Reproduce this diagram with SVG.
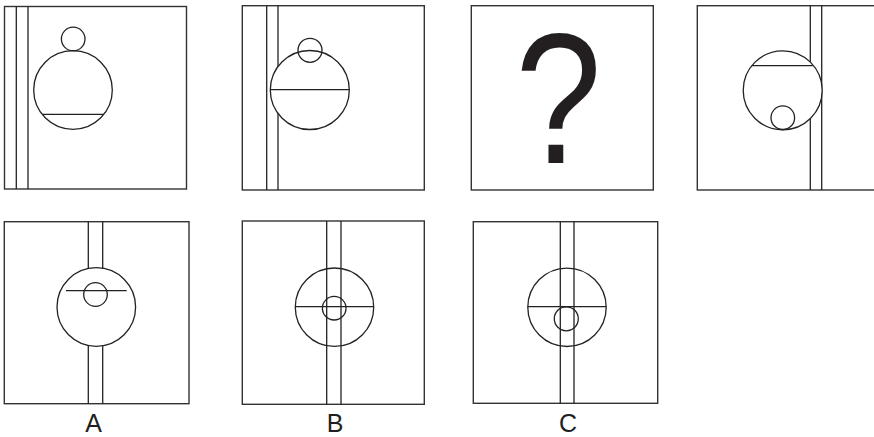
<svg xmlns="http://www.w3.org/2000/svg" width="874" height="437" viewBox="0 0 874 437">
<style>
.box{fill:#fff;stroke:#333;stroke-width:1.4}
.ln{stroke:#222;stroke-width:1.3;fill:none}
.cw{fill:#fff;stroke:#222;stroke-width:1.3}
.c{fill:none;stroke:#222;stroke-width:1.3}
.lbl{font-family:"Liberation Sans",Arial,sans-serif;font-size:25px;fill:#231f20;text-anchor:middle}
</style>
<rect width="874" height="437" fill="#fff"/>
<g id="fig1">
<rect class="box" x="4.5" y="6.5" width="182" height="182.5"/>
<line class="ln" x1="16.3" y1="6.5" x2="16.3" y2="189"/>
<line class="ln" x1="28" y1="6.5" x2="28" y2="189"/>
<circle class="cw" cx="73" cy="90" r="39.3"/>
<line class="ln" x1="42.7" y1="114.3" x2="103.3" y2="114.3"/>
<circle class="c" cx="73.2" cy="39" r="11.8"/>
</g>
<g id="fig2">
<rect class="box" x="242.3" y="5.7" width="182" height="184.3"/>
<line class="ln" x1="266.7" y1="5.7" x2="266.7" y2="190"/>
<line class="ln" x1="278" y1="5.7" x2="278" y2="190"/>
<circle class="cw" cx="309.8" cy="90" r="39.5"/>
<line class="ln" x1="270.3" y1="89.7" x2="349.3" y2="89.7"/>
<circle class="c" cx="310" cy="50.3" r="12"/>
</g>
<g id="fig3">
<rect class="box" x="471.3" y="5.7" width="182" height="184.3"/>
<text transform="translate(558.5,162.7) scale(0.84,1)" x="0" y="0" style="font-family:'Liberation Sans',Arial,sans-serif;font-size:185px;fill:#231f20;text-anchor:middle">?</text>
</g>
<g id="fig4">
<rect class="box" x="697.3" y="5.7" width="182" height="184.3"/>
<line class="ln" x1="810.3" y1="5.7" x2="810.3" y2="190"/>
<line class="ln" x1="821.7" y1="5.7" x2="821.7" y2="190"/>
<circle class="cw" cx="782.7" cy="90.3" r="39.5"/>
<line class="ln" x1="751.7" y1="65.7" x2="812.7" y2="65.7"/>
<circle class="c" cx="782.8" cy="117.7" r="11.8"/>
</g>
<g id="optA">
<rect class="box" x="4.3" y="221.7" width="184.7" height="182"/>
<line class="ln" x1="88.3" y1="221.7" x2="88.3" y2="403.7"/>
<line class="ln" x1="102.7" y1="221.7" x2="102.7" y2="403.7"/>
<circle class="cw" cx="96.3" cy="307" r="39.3"/>
<line class="ln" x1="66" y1="290.7" x2="126.7" y2="290.7"/>
<circle class="c" cx="95.5" cy="294.5" r="11.8"/>
<text class="lbl" x="93.5" y="431.7">A</text>
</g>
<g id="optB">
<rect class="box" x="242.3" y="221" width="182" height="183.3"/>
<circle class="c" cx="334.5" cy="307.2" r="39.2"/>
<line class="ln" x1="326.7" y1="221" x2="326.7" y2="404.3"/>
<line class="ln" x1="341" y1="221" x2="341" y2="404.3"/>
<line class="ln" x1="295.3" y1="306.7" x2="373.7" y2="306.7"/>
<circle class="c" cx="334.2" cy="308.2" r="11.8"/>
<text class="lbl" x="335" y="431.7">B</text>
</g>
<g id="optC">
<rect class="box" x="473.3" y="221.7" width="184.4" height="181.6"/>
<circle class="c" cx="567" cy="307.3" r="39.2"/>
<line class="ln" x1="560.3" y1="221.7" x2="560.3" y2="403.3"/>
<line class="ln" x1="574" y1="221.7" x2="574" y2="403.3"/>
<line class="ln" x1="527.7" y1="306.7" x2="606.3" y2="306.7"/>
<circle class="c" cx="566.3" cy="318.8" r="12"/>
<text class="lbl" x="568" y="431.7">C</text>
</g>
</svg>
